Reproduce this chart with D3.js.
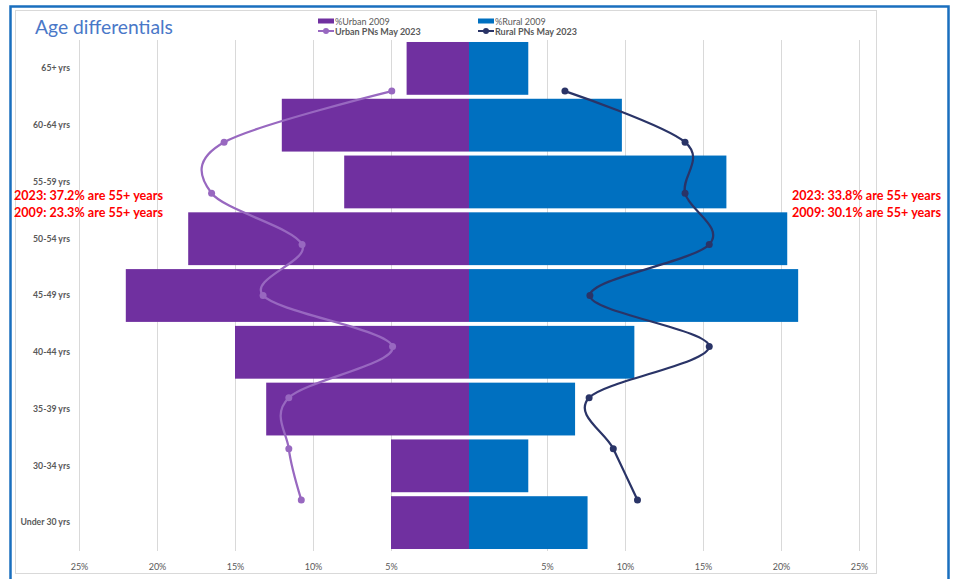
<!DOCTYPE html>
<html>
<head>
<meta charset="utf-8">
<script src="https://cdn.jsdelivr.net/npm/d3@7"></script>
<style>
  html, body { margin: 0; padding: 0; background: #fff; }
  svg { display: block; }
  text { font-family: Lato, "Open Sans", sans-serif; }
</style>
</head>
<body>
<svg id="chart" width="954" height="579"></svg>
<script>
// ---- Data ----
const categories = ["65+ yrs", "60-64 yrs", "55-59 yrs", "50-54 yrs", "45-49 yrs", "40-44 yrs", "35-39 yrs", "30-34 yrs", "Under 30 yrs"];
const urban2009 = [4.0, 12.0, 8.0, 18.0, 22.0, 15.0, 13.0, 5.0, 5.0];
const rural2009 = [3.8, 9.8, 16.5, 20.4, 21.1, 10.6, 6.8, 3.8, 7.6];
const urbanPN2023 = [4.95, 15.7, 16.5, 10.7, 13.2, 4.9, 11.55, 11.55, 10.75];
const ruralPN2023 = [6.15, 13.85, 13.85, 15.4, 7.75, 15.4, 7.7, 9.25, 10.8];
const tickValues = [5, 10, 15, 20, 25];
const seriesNames = ["%Urban 2009", "Urban PNs May 2023", "%Rural 2009", "Rural PNs May 2023"];
const title = "Age differentials";
const notesLeft = ["2023: 37.2% are 55+ years", "2009: 23.3% are 55+ years"];
const notesRight = ["2023: 33.8% are 55+ years", "2009: 30.1% are 55+ years"];

// ---- Styles ----
const C = {
  urbanBar: "#7030A0", ruralBar: "#0070C0",
  urbanLine: "#9868c0", ruralLine: "#2a3467",
  grid: "#d9d9d9", text: "#595959", note: "#ff0000",
  title: "#4a78c8", border: "#1a6fbe", frame: "#d9d9d9"
};

const svg = d3.select("#chart");
const center = 469, plotTop = 40, plotBottom = 551;

const xL = d3.scaleLinear().domain([0, 25]).range([center, 79]);
const xR = d3.scaleLinear().domain([0, 25]).range([center, 859]);
const yBand = d3.scaleBand().domain(categories).range([plotTop, plotBottom]).paddingInner(0.07).paddingOuter(0.035);
const yPt = d3.scalePoint().domain(categories).range([plotTop, plotBottom]).padding(1);

// background, frames
svg.append("rect").attr("width", 954).attr("height", 579).attr("fill", "#fff");
svg.append("rect").attr("x", 15.5).attr("y", 10.5).attr("width", 861).attr("height", 563)
  .attr("fill", "none").attr("stroke", C.frame).attr("stroke-width", 1);
svg.append("path").attr("d", "M10.5,590 V6.5 H948.5 V590")
  .attr("fill", "none").attr("stroke", C.border).attr("stroke-width", 2.5);

// gridlines via axes
const gL = svg.append("g").attr("transform", `translate(0,${plotBottom})`)
  .call(d3.axisBottom(xL).tickValues(tickValues).tickSize(-(plotBottom - plotTop)).tickFormat(d => d + "%"));
const gR = svg.append("g").attr("transform", `translate(0,${plotBottom})`)
  .call(d3.axisBottom(xR).tickValues(tickValues).tickSize(-(plotBottom - plotTop)).tickFormat(d => d + "%"));
[gL, gR].forEach(g => {
  g.select(".domain").remove();
  g.selectAll(".tick line").attr("stroke", C.grid).attr("stroke-width", 1);
  g.selectAll(".tick text").attr("y", 13).attr("fill", C.text).attr("font-size", 9);
});

// bars
svg.append("g").selectAll("rect").data(categories).join("rect")
  .attr("x", (d, i) => xL(urban2009[i])).attr("y", d => yBand(d))
  .attr("width", (d, i) => xL(0) - xL(urban2009[i])).attr("height", yBand.bandwidth())
  .attr("fill", C.urbanBar);
svg.append("g").selectAll("rect").data(categories).join("rect")
  .attr("x", xR(0)).attr("y", d => yBand(d))
  .attr("width", (d, i) => xR(rural2009[i]) - xR(0)).attr("height", yBand.bandwidth())
  .attr("fill", C.ruralBar);

// category labels
const yAxis = svg.append("g").attr("transform", "translate(70,0)")
  .call(d3.axisLeft(yBand).tickSize(0).tickPadding(0));
yAxis.select(".domain").remove();
yAxis.selectAll(".tick text").attr("fill", C.text).attr("font-size", 8.7).attr("font-weight", 700);

// lines
const curve = d3.curveCardinal.tension(0);
function drawLine(vals, xs, color) {
  const pts = categories.map((c, i) => [xs(vals[i]), yPt(c)]);
  svg.append("path").attr("d", d3.line().curve(curve)(pts))
    .attr("fill", "none").attr("stroke", color).attr("stroke-width", 2.25).attr("stroke-linecap", "round");
  svg.append("g").selectAll("circle").data(pts).join("circle")
    .attr("cx", d => d[0]).attr("cy", d => d[1]).attr("r", 3.5).attr("fill", color);
}
drawLine(urbanPN2023, xL, C.urbanLine);
drawLine(ruralPN2023, xR, C.ruralLine);

// title
svg.append("text").attr("x", 35).attr("y", 34).attr("fill", C.title).attr("font-size", 19.3).text(title);

// legend
function legendItem(x, y, i, type, color) {
  const g = svg.append("g");
  if (type === "bar") {
    g.append("rect").attr("x", x).attr("y", y - 4.5).attr("width", 16).attr("height", 5).attr("fill", color);
  } else {
    g.append("line").attr("x1", x).attr("x2", x + 16).attr("y1", y - 2).attr("y2", y - 2)
      .attr("stroke", color).attr("stroke-width", 2);
    g.append("circle").attr("cx", x + 8).attr("cy", y - 2).attr("r", 3).attr("fill", color);
  }
  g.append("text").attr("x", x + 17).attr("y", y + 1.5).attr("fill", C.text).attr("font-size", 9)
    .attr("font-weight", type === "bar" ? 400 : 700).text(seriesNames[i]);
}
legendItem(318, 23, 0, "bar", C.urbanBar);
legendItem(318, 33, 1, "line", C.urbanLine);
legendItem(478, 23, 2, "bar", C.ruralBar);
legendItem(478, 33, 3, "line", C.ruralLine);

// annotations
function notes(x, lines) {
  lines.forEach((t, i) => {
    svg.append("text").attr("x", x).attr("y", 200 + i * 17.3).attr("fill", C.note)
      .attr("font-size", 12.6).attr("font-weight", 700).text(t);
  });
}
notes(14, notesLeft);
notes(792, notesRight);
</script>
</body>
</html>
